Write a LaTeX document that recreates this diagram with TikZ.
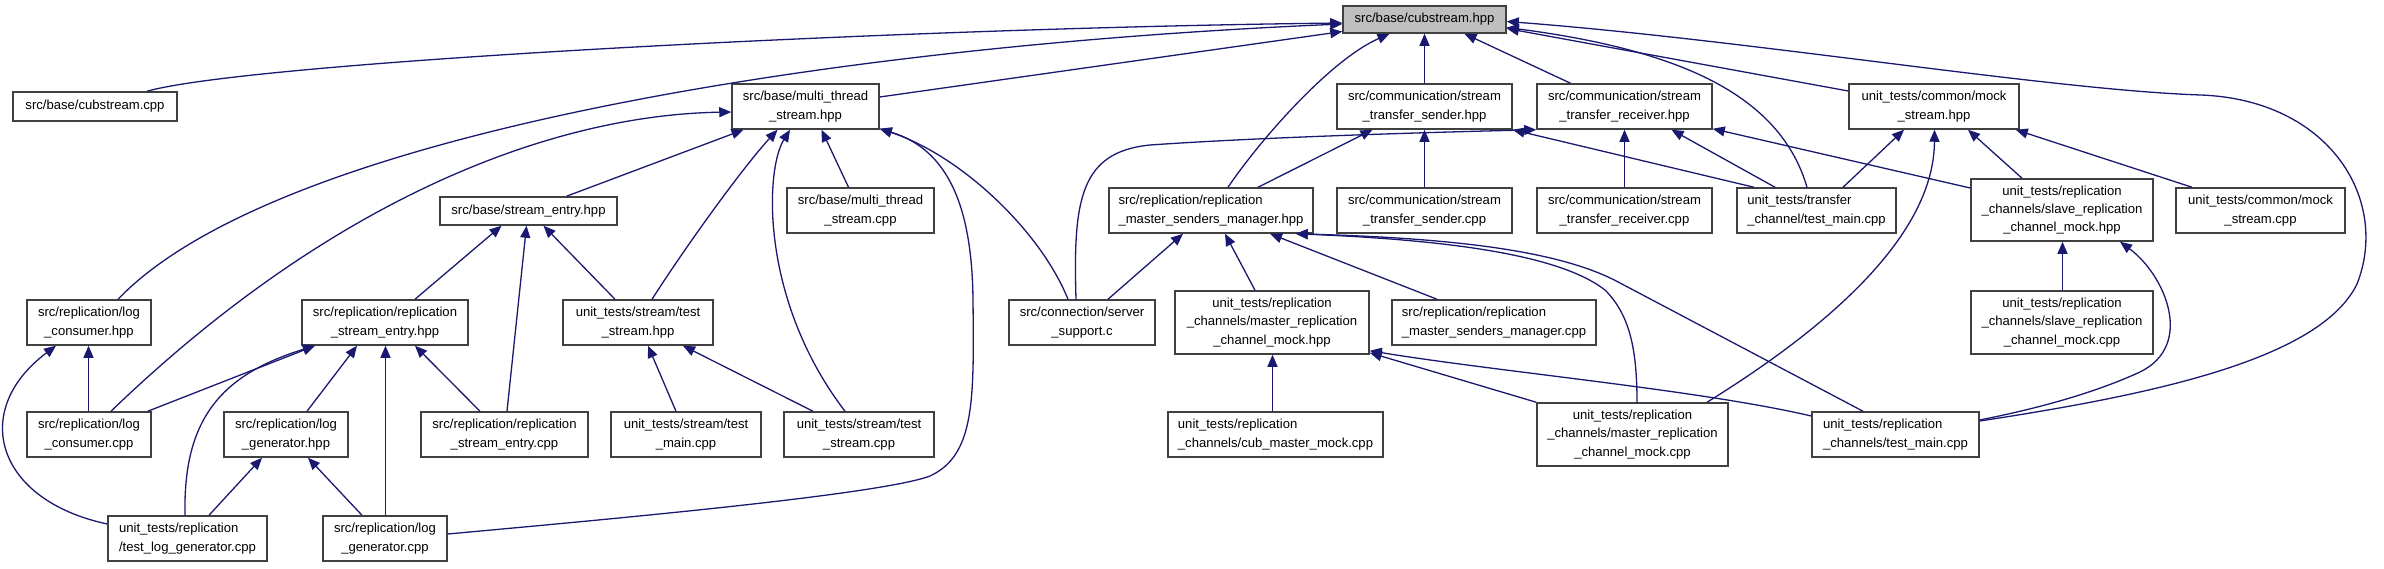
\documentclass[tikz,border=0pt]{standalone}
\usepackage{fontspec}
\setmainfont{Liberation Sans}
\usetikzlibrary{arrows.meta,calc}
\definecolor{ec}{HTML}{191970}
\definecolor{bc}{HTML}{404040}
\definecolor{rootfill}{HTML}{BFBFBF}
\begin{document}
\begin{tikzpicture}[x=1pt,y=-1pt,
  box/.style={draw=bc, line width=1.5, fill=white, inner sep=0pt, align=center,
    font=\fontsize{13.1}{18.3}\selectfont},
  lbox/.style={box, align=left},
  e/.style={draw=ec, line width=1.3, arrows={Triangle[length=12pt,width=10pt,fill=ec]-}}]
\fill[white] (0,0) rectangle (2384,568);
\useasboundingbox (0,0) rectangle (2384,568);
% nodes
\node[box, fill=rootfill, minimum width=163, minimum height=27] (root) at (1424.5,19.5) {src/base/cubstream.hpp};
\node[box, minimum width=164, minimum height=29] (cubcpp) at (95,106.5) {src/base/cubstream.cpp};
\node[box, minimum width=147, minimum height=45] (mtshpp) at (805.5,106.5) {src/base/multi\_thread\\\_stream.hpp};
\node[box, minimum width=177, minimum height=28] (sehpp) at (528.5,211) {src/base/stream\_entry.hpp};
\node[box, minimum width=147, minimum height=45] (mtscpp) at (860.5,210.5) {src/base/multi\_thread\\\_stream.cpp};
\node[box, minimum width=124, minimum height=45] (lchpp) at (89,322.5) {src/replication/log\\\_consumer.hpp};
\node[box, minimum width=124, minimum height=45] (lccpp) at (89,434.5) {src/replication/log\\\_consumer.cpp};
\node[box, minimum width=166, minimum height=45] (rsehpp) at (385,322.5) {src/replication/replication\\\_stream\_entry.hpp};
\node[box, minimum width=124, minimum height=45] (lghpp) at (286,434.5) {src/replication/log\\\_generator.hpp};
\node[lbox, minimum width=159, minimum height=45] (tlgcpp) at (187.5,538.5) {unit\_tests/replication\\/test\_log\_generator.cpp};
\node[box, minimum width=124, minimum height=45] (lgcpp) at (385,538.5) {src/replication/log\\\_generator.cpp};
\node[box, minimum width=167, minimum height=45] (rsecpp) at (504.5,434.5) {src/replication/replication\\\_stream\_entry.cpp};
\node[box, minimum width=150, minimum height=45] (tshpp) at (638,322.5) {unit\_tests/stream/test\\\_stream.hpp};
\node[box, minimum width=150, minimum height=45] (tmcpp) at (686,434.5) {unit\_tests/stream/test\\\_main.cpp};
\node[box, minimum width=150, minimum height=45] (tscpp) at (859,434.5) {unit\_tests/stream/test\\\_stream.cpp};
\node[box, minimum width=146, minimum height=45] (ssc) at (1082,322.5) {src/connection/server\\\_support.c};
\node[lbox, minimum width=204, minimum height=45] (mgrhpp) at (1211,210.5) {src/replication/replication\\\_master\_senders\_manager.hpp};
\node[box, minimum width=175, minimum height=45] (sndhpp) at (1424.5,106.5) {src/communication/stream\\\_transfer\_sender.hpp};
\node[box, minimum width=175, minimum height=45] (sndcpp) at (1424.5,210.5) {src/communication/stream\\\_transfer\_sender.cpp};
\node[box, minimum width=175, minimum height=45] (rcvhpp) at (1624.5,106.5) {src/communication/stream\\\_transfer\_receiver.hpp};
\node[box, minimum width=175, minimum height=45] (rcvcpp) at (1624.5,210.5) {src/communication/stream\\\_transfer\_receiver.cpp};
\node[lbox, minimum width=159, minimum height=45] (ttmcpp) at (1816.5,210.5) {unit\_tests/transfer\\\_channel/test\_main.cpp};
\node[box, minimum width=170, minimum height=45] (mockhpp) at (1934,106.5) {unit\_tests/common/mock\\\_stream.hpp};
\node[box, minimum width=169, minimum height=45] (mockcpp) at (2260.5,210.5) {unit\_tests/common/mock\\\_stream.cpp};
\node[box, minimum width=182, minimum height=62] (slvhpp) at (2062,210) {unit\_tests/replication\\\_channels/slave\_replication\\\_channel\_mock.hpp};
\node[box, minimum width=182, minimum height=63] (slvcpp) at (2062,322.5) {unit\_tests/replication\\\_channels/slave\_replication\\\_channel\_mock.cpp};
\node[box, minimum width=194, minimum height=63] (msthpp) at (1272,322.5) {unit\_tests/replication\\\_channels/master\_replication\\\_channel\_mock.hpp};
\node[lbox, minimum width=204, minimum height=45] (mgrcpp) at (1494,322.5) {src/replication/replication\\\_master\_senders\_manager.cpp};
\node[lbox, minimum width=215, minimum height=45] (cubmcpp) at (1275.5,434.5) {unit\_tests/replication\\\_channels/cub\_master\_mock.cpp};
\node[box, minimum width=191, minimum height=63] (mstcpp) at (1632.5,434.5) {unit\_tests/replication\\\_channels/master\_replication\\\_channel\_mock.cpp};
\node[lbox, minimum width=167, minimum height=45] (rtmcpp) at (1895.5,434.5) {unit\_tests/replication\\\_channels/test\_main.cpp};
% edges from root
\draw[e] ($(root.west)+(0,3.5)$) .. controls (900,28) and (250,62) .. ($(cubcpp.north)+(52,0)$);
\draw[e] ($(root.west)+(0,4.5)$) .. controls (850,45) and (280,130) .. ($(lchpp.north)+(29,0)$);
\draw[e] ($(root.west)+(0,12)$) -- ($(mtshpp.east)+(0,-9.5)$);
\draw[e] ($(root.south)+(-35,0)$) .. controls (1330,60) and (1260,140) .. ($(mgrhpp.north)+(17,0)$);
\draw[e] (root.south) -- (sndhpp.north);
\draw[e] ($(root.south)+(40,0)$) -- ($(rcvhpp.north)+(-54,0)$);
\draw[e] ($(root.east)+(0,8)$) .. controls (1680,50) and (1780,95) .. ($(ttmcpp.north)+(-9.5,0)$);
\draw[e] ($(root.east)+(0,9)$) -- ($(mockhpp.west)+(0,-15.5)$);
\draw[e] ($(root.east)+(0,2)$) .. controls (1750,40) and (2050,90) .. (2201,95)
  .. controls (2330,100) and (2390,200) .. (2357,284)
  .. controls (2320,360) and (2150,395) .. ($(rtmcpp.east)+(0,-13.5)$);
% multi_thread_stream.hpp
\draw[e] ($(mtshpp.west)+(0,5.5)$) .. controls (550,115) and (330,200) .. ($(lccpp.north)+(22,0)$);
\draw[e] ($(mtshpp.south)+(-62,0)$) -- ($(sehpp.north)+(38,0)$);
\draw[e] ($(mtshpp.south)+(-28,0)$) .. controls (745,165) and (690,240) .. ($(tshpp.north)+(14,0)$);
\draw[e] ($(mtshpp.south)+(-15.5,0)$) .. controls (765,170) and (760,300) .. ($(tscpp.north)+(-14,0)$);
\draw[e] ($(mtshpp.south)+(16,0)$) -- ($(mtscpp.north)+(-12,0)$);
\draw[e] ($(mtshpp.south east)+(0,-1)$) .. controls (950,150) and (972,210) .. (973,300)
  .. controls (974,400) and (975,455) .. (930,476)
  .. controls (880,495) and (600,520) .. ($(lgcpp.east)+(0,-4.5)$);
\draw[e] ($(mtshpp.south east)+(0,-1)$) .. controls (960,155) and (1040,230) .. ($(ssc.north)+(-14,0)$);
% stream_entry.hpp
\draw[e] ($(sehpp.south)+(-27,0)$) -- ($(rsehpp.north)+(30,0)$);
\draw[e] ($(sehpp.south)+(-2,0)$) -- ($(rsecpp.north)+(2.5,0)$);
\draw[e] ($(sehpp.south)+(15,0)$) -- ($(tshpp.north)+(-23,0)$);
% log_consumer.hpp
\draw[e] ($(lchpp.south)+(-0.5,0)$) -- ($(lccpp.north)+(-0.5,0)$);
\draw[e] ($(lchpp.south)+(-33,0)$) .. controls (-30,410) and (-5,500) .. ($(tlgcpp.west)+(0,-14.5)$);
% replication_stream_entry.hpp
\draw[e] ($(rsehpp.south)+(-70,0)$) -- ($(lccpp.north east)+(-4,0)$);
\draw[e] ($(rsehpp.south)+(-70,0)$) .. controls (220,375) and (183,420) .. ($(tlgcpp.north)+(-2.5,0)$);
\draw[e] ($(rsehpp.south)+(-28,0)$) -- ($(lghpp.north)+(21,0)$);
\draw[e] ($(rsehpp.south)+(0.5,0)$) -- ($(lgcpp.north)+(0.5,0)$);
\draw[e] ($(rsehpp.south)+(30,0)$) -- ($(rsecpp.north)+(-24.5,0)$);
% log_generator.hpp
\draw[e] ($(lghpp.south)+(-24,0)$) -- ($(tlgcpp.north)+(21.5,0)$);
\draw[e] ($(lghpp.south)+(22,0)$) -- ($(lgcpp.north)+(-23,0)$);
% test_stream.hpp
\draw[e] ($(tshpp.south)+(10,0)$) -- ($(tmcpp.north)+(-10,0)$);
\draw[e] ($(tshpp.south)+(45,0)$) -- ($(tscpp.north)+(-46,0)$);
% master senders manager hpp
\draw[e] ($(mgrhpp.south)+(-28,0)$) -- ($(ssc.north)+(26,0)$);
\draw[e] ($(mgrhpp.south)+(14,0)$) -- ($(msthpp.north)+(-17,0)$);
\draw[e] ($(mgrhpp.south)+(59,0)$) -- ($(mgrcpp.north)+(-57,0)$);
\draw[e] ($(mgrhpp.south east)+(-18,0)$) .. controls (1450,240) and (1560,255) .. (1605,290)
  .. controls (1630,315) and (1637,350) .. ($(mstcpp.north)+(4.5,0)$);
\draw[e] ($(mgrhpp.south east)+(-18,0)$) .. controls (1450,238) and (1560,250) .. (1620,283)
  -- ($(rtmcpp.north)+(-32.5,0)$);
% master replication channel mock hpp
\draw[e] ($(msthpp.south)+(0.5,0)$) -- ($(cubmcpp.north)+(-3,0)$);
\draw[e] ($(msthpp.south east)+(0,-2)$) -- (mstcpp.north west);
\draw[e] ($(msthpp.south east)+(0,-4)$) .. controls (1500,372) and (1700,390) .. ($(rtmcpp.west)+(0,-18.5)$);
% mock_stream.hpp
\draw[e] ($(mockhpp.south)+(-30,0)$) -- ($(ttmcpp.north)+(26.5,0)$);
\draw[e] ($(mockhpp.south)+(0.5,0)$) .. controls (1934,230) and (1840,320) .. ($(mstcpp.north)+(74.5,0)$);
\draw[e] ($(mockhpp.south)+(34,0)$) -- ($(slvhpp.north)+(-40,0)$);
\draw[e] ($(mockhpp.south east)+(-4,0)$) -- ($(mockcpp.north)+(-68.5,0)$);
% stream_transfer_receiver.hpp
\draw[e] (rcvhpp.south) -- (rcvcpp.north);
\draw[e] ($(rcvhpp.south)+(47,0)$) -- ($(ttmcpp.north)+(-41.5,0)$);
\draw[e] ($(rcvhpp.south east)+(0,-1)$) -- ($(slvhpp.west)+(0,-22)$);
\draw[e] (rcvhpp.south west) .. controls (1400,133) and (1250,138) .. (1150,145)
  .. controls (1080,152) and (1073,200) .. ($(ssc.north)+(-6,0)$);
% stream_transfer_sender.hpp
\draw[e] ($(sndhpp.south)+(-52,0)$) -- ($(mgrhpp.north)+(47,0)$);
\draw[e] (sndhpp.south) -- (sndcpp.north);
\draw[e] (sndhpp.south east) -- ($(ttmcpp.north)+(-62.5,0)$);
% slave replication channel mock hpp
\draw[e] ($(slvhpp.south)+(0.5,0)$) -- ($(slvcpp.north)+(0.5,0)$);
\draw[e] ($(slvhpp.south)+(58,0)$) .. controls (2165,275) and (2195,345) .. (2140,372)
  .. controls (2090,395) and (2030,410) .. ($(rtmcpp.east)+(0,-14.5)$);
\end{tikzpicture}
\end{document}
